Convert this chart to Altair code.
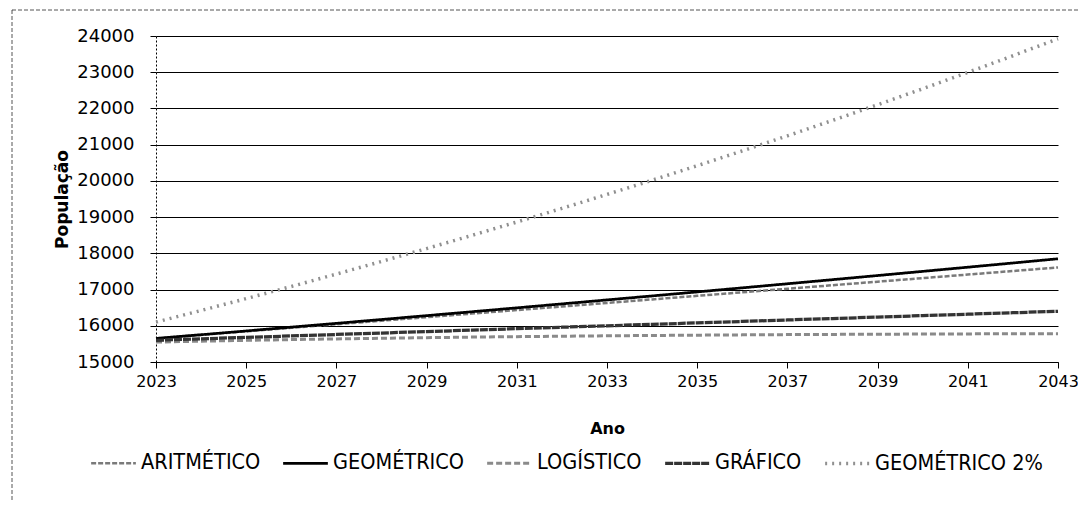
import altair as alt
import pandas as pd

anos = list(range(2023, 2044))
series = ["ARITMÉTICO", "GEOMÉTRICO", "LOGÍSTICO", "GRÁFICO", "GEOMÉTRICO 2%"]

aritmetico = [15650, 15748, 15846, 15944, 16042, 16140, 16238, 16336, 16434, 16532, 16630,
              16728, 16826, 16924, 17022, 17120, 17218, 17316, 17414, 17512, 17610]
geometrico = [15650, 15753, 15857, 15962, 16067, 16173, 16280, 16387, 16495, 16604, 16714,
              16824, 16935, 17047, 17160, 17273, 17387, 17502, 17617, 17733, 17850]
logistico = [15550, 15575, 15598, 15619, 15638, 15656, 15672, 15687, 15700, 15712, 15723,
             15732, 15741, 15749, 15756, 15762, 15767, 15772, 15776, 15779, 15782]
grafico = [15600, 15640, 15680, 15720, 15760, 15800, 15840, 15880, 15920, 15960, 16000,
           16040, 16080, 16120, 16160, 16200, 16240, 16280, 16320, 16360, 16400]
geometrico2 = [16100, 16422, 16750, 17085, 17427, 17776, 18131, 18494, 18864, 19241, 19626,
               20018, 20419, 20827, 21244, 21669, 22102, 22544, 22995, 23455, 23924]

x_ticks = list(range(2023, 2044, 2))
y_ticks = list(range(15000, 24001, 1000))

valores = [aritmetico, geometrico, logistico, grafico, geometrico2]
rows = []
for nome, vals in zip(series, valores):
    for a, v in zip(anos, vals):
        rows.append({"Ano": a, "População": v, "Método": nome})
df = pd.DataFrame(rows)

FONT = "DejaVu Sans"
LFONT = "DejaVu Sans Condensed, DejaVu Sans"

legend = alt.Legend(
    title=None, orient="none", direction="horizontal", columns=5,
    legendX=-67, legendY=403,
    symbolType="stroke", symbolSize=2000,
    labelFont=LFONT, labelFontSize=21.5, labelColor="#000000", labelLimit=400,
    labelOffset=3, columnPadding=16,
)

lines = alt.Chart(df).mark_line().encode(
    x=alt.X("Ano:Q",
            scale=alt.Scale(domain=[2023, 2043], nice=False, zero=False),
            axis=alt.Axis(values=x_ticks, format="d", grid=False, labelFlush=False,
                          title="Ano", titleFont=FONT, titleFontSize=16, titleFontWeight="bold",
                          titleX=451, titleY=66, titleBaseline="middle",
                          labelFont=FONT, labelFontSize=16, labelColor="#000000",
                          labelPadding=5, tickSize=6, tickColor="#000000",
                          domainColor="#000000")),
    y=alt.Y("População:Q",
            scale=alt.Scale(domain=[15000, 24000], nice=False, zero=False),
            axis=alt.Axis(values=y_ticks, format="d", grid=True, gridColor="#000000",
                          gridWidth=1, labelFlush=False,
                          title="População", titleFont=FONT, titleFontSize=17,
                          titleFontWeight="bold", titleAngle=270,
                          titleX=-94, titleY=163, titleAlign="center", titleBaseline="middle",
                          labelFont=FONT, labelFontSize=18, labelColor="#000000",
                          labelPadding=16, tickSize=6, tickColor="#000000",
                          domainColor="#000000", domainDash=[2, 2])),
    color=alt.Color("Método:N", sort=series,
                    scale=alt.Scale(domain=series,
                                    range=["#7a7a7a", "#000000", "#8a8a8a", "#333333", "#909090"]),
                    legend=legend),
    strokeDash=alt.StrokeDash("Método:N", sort=series,
                              scale=alt.Scale(domain=series,
                                              range=[[5, 2], [1, 0], [6, 3], [8, 1], [2, 5]]),
                              legend=legend),
    strokeWidth=alt.StrokeWidth("Método:N", sort=series,
                                scale=alt.Scale(domain=series, range=[2.5, 3.5, 1.8, 3, 1.6]),
                                legend=legend),
)

frame = alt.Chart(pd.DataFrame({"k": [0]})).mark_rect(
    fill=None, fillOpacity=0, stroke="#555555", strokeWidth=1, strokeDash=[4, 2]
).encode(
    x=alt.value(-144), x2=alt.value(926), y=alt.value(-26), y2=alt.value(490)
)

chart = alt.layer(lines, frame).properties(
    width=902, height=326,
    autosize=alt.AutoSizeParams(type="none"),
    padding={"left": 148, "top": 28, "right": 20, "bottom": 140},
).configure(background="#ffffff").configure_view(stroke=None)

chart.save("out.html", embed_options={"renderer": "svg", "actions": False})
